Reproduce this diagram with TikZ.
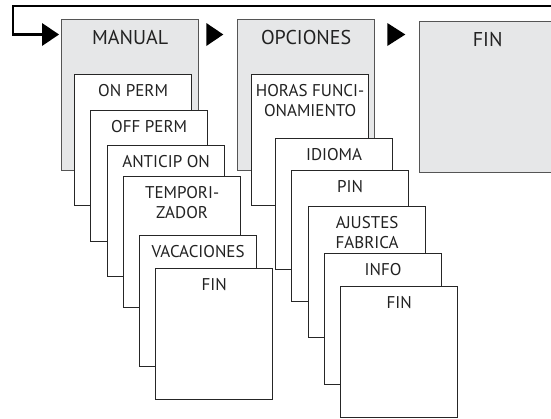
\documentclass[tikz,border=0pt]{standalone}
\usepackage{fontspec}
\setmainfont{PT Sans}
\usetikzlibrary{calc}
\definecolor{menugray}{HTML}{E6E7E8}
\definecolor{edgegray}{HTML}{555555}
\definecolor{txtgray}{HTML}{222222}

\begin{document}
\begin{tikzpicture}[x=1pt,y=-1pt,
	menu/.style={draw=edgegray, line width=1.3pt, fill=menugray, minimum width=137pt, minimum height=151pt, inner sep=0pt, anchor=north west},
	item/.style={draw=black!85, line width=1.2pt, fill=white, minimum width=117pt, minimum height=131pt, inner sep=0pt, anchor=north west},
	headtext/.style={anchor=north, yshift=-11pt, inner sep=0pt, text=txtgray, font=\fontsize{20}{24}\selectfont},
	itemtext/.style={anchor=north, yshift=-10.5pt, inner sep=0pt, text=txtgray, align=center, font=\fontsize{17}{20}\selectfont},
	pointer/.style={fill=black}]
	\useasboundingbox (0,0) rectangle (551,418);
	
	\node [menu, label={[headtext]north:MANUAL}] (manual) at (61,19) {};
	\node [menu, label={[headtext]north:OPCIONES}] (opciones) at (237,19) {};
	\node [menu, minimum width=136pt, label={[headtext]north:FIN}] (fin) at (419,21) {};
	
	\node [item, label={[itemtext]north:ON PERM}] (onperm) at (74,74) {};
	\node [item, label={[itemtext]north:OFF PERM}] (offperm) at (90,110) {};
	\node [item, label={[itemtext]north:ANTICIP ON}] (anticip) at (107,145) {};
	\node [item, label={[itemtext]north:TEMPORI-\\ZADOR}] (tempor) at (123,176) {};
	\node [item, label={[itemtext]north:VACACIONES}] (vacaciones) at (139,235) {};
	\node [item, label={[itemtext]north:FIN}] (finmanual) at (155,268) {};
	
	\node [item, label={[itemtext]north:HORAS FUNCI-\\ONAMIENTO}] (horas) at (251,74) {};
	\node [item, label={[itemtext]north:IDIOMA}] (idioma) at (275,138) {};
	\node [item, label={[itemtext]north:PIN}] (pin) at (291,170) {};
	\node [item, label={[itemtext]north:AJUSTES\\FABRICA}] (ajustes) at (308,206) {};
	\node [item, label={[itemtext]north:INFO}] (info) at (324,253) {};
	\node [item, label={[itemtext]north:FIN}] (finopciones) at (340,286) {};
	
	\coordinate (back) at (560,6);
	\coordinate (entry) at ($(manual.north west)+(-18,15.5)$);
	\draw [line width=2.6pt] (back) -- (13,6) |- (entry);
	\fill [pointer] ($(manual.north west)+(-19,4)$) -- ++(17,11.5) -- ++(-17,11.5) -- cycle;
	\fill [pointer] ($(manual.north east)+(7,4)$) -- ++(17,11.5) -- ++(-17,11.5) -- cycle;
	\fill [pointer] ($(opciones.north east)+(12,4)$) -- ++(18,11.5) -- ++(-18,11.5) -- cycle;
\end{tikzpicture}
\end{document}
